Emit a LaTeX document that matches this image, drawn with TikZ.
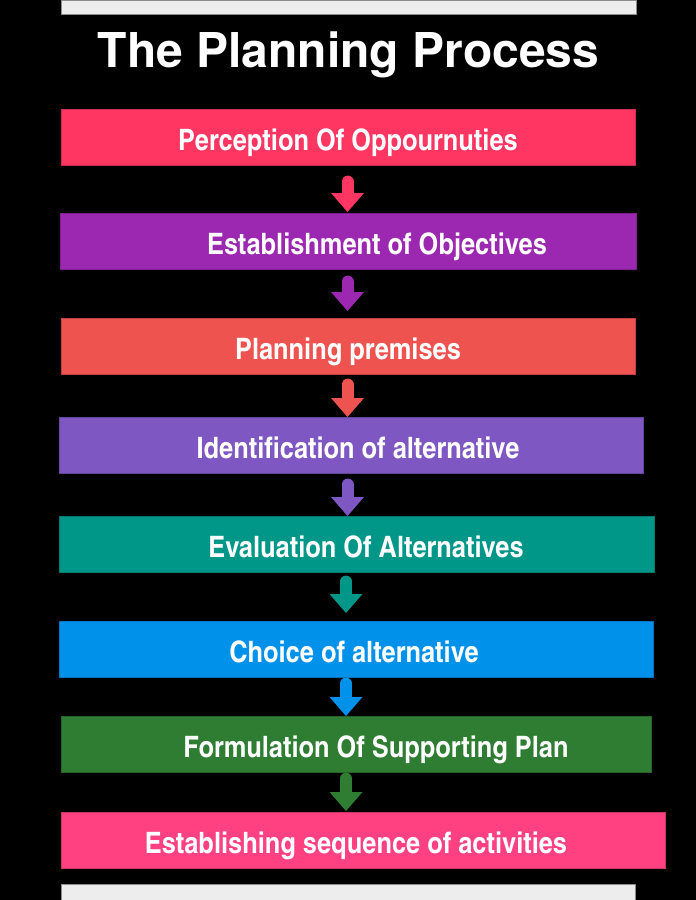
\documentclass[tikz,border=0pt]{standalone}
\usepackage{fontspec}
\usepackage{tikz}
\usetikzlibrary{arrows.meta}
\newfontfamily\titlefont{texgyreheros-bold}[Extension=.otf]
\newfontfamily\boxfont{texgyreheroscn-bold}[Extension=.otf, FakeStretch=1.05]
\definecolor{PerceptionRed}{HTML}{FF3562}
\definecolor{ObjectivePurple}{HTML}{9C27B0}
\definecolor{PremiseRed}{HTML}{EF5350}
\definecolor{IdentifyPurple}{HTML}{7E57C2}
\definecolor{EvalTeal}{HTML}{009688}
\definecolor{ChoiceBlue}{HTML}{0091EA}
\definecolor{PlanGreen}{HTML}{2E7D32}
\definecolor{SequencePink}{HTML}{FF4081}
\tikzset{
  stepbox/.style={rectangle, draw=#1!80!black, line width=0.6pt, fill=#1, minimum height=56pt, inner sep=0pt, anchor=north west},
  steptext/.style={text=white, anchor=base, font=\boxfont\fontsize{29.5}{29.5}\selectfont},
  flow/.style={draw=#1, line width=12pt, line cap=round, -{Triangle[width=33pt,length=19pt,line width=0pt]}},
  greybar/.style={rectangle, draw=black!45, fill=black!7, inner sep=0pt, anchor=north west}
}
\begin{document}
\begin{tikzpicture}[x=1pt, y=-1pt]

\fill[black] (0,0) rectangle (696,900);
\useasboundingbox (0,0) rectangle (696,900);

\node at (61,0) [greybar, minimum width=575pt, minimum height=14pt] (topbar) {};
\node at (61,884) [greybar, minimum width=574pt, minimum height=16pt] (bottombar) {};

\node at (348.5,67) [anchor=base, text=white, font=\titlefont\fontsize{48}{48}\selectfont] (title) {The Planning Process};

\node at (61,109) [stepbox=PerceptionRed, minimum width=574pt] (perception) {};
\node at (60,213) [stepbox=ObjectivePurple, minimum width=576pt] (objectives) {};
\node at (61,318) [stepbox=PremiseRed, minimum width=574pt] (premises) {};
\node at (59,417) [stepbox=IdentifyPurple, minimum width=584pt] (identify) {};
\node at (59,516) [stepbox=EvalTeal, minimum width=595pt] (evaluate) {};
\node at (59,621) [stepbox=ChoiceBlue, minimum width=594pt] (choice) {};
\node at (61,716) [stepbox=PlanGreen, minimum width=590pt] (support) {};
\node at (61,812) [stepbox=SequencePink, minimum width=604pt] (sequence) {};

\node at (348,150) [steptext] (perceptiontext) {Perception Of Oppournuties};
\node at (377,254) [steptext] (objectivestext) {Establishment of Objectives};
\node at (348,359) [steptext] (premisestext) {Planning premises};
\node at (358,458) [steptext] (identifytext) {Identification of alternative};
\node at (366,557) [steptext] (evaluatetext) {Evaluation Of Alternatives};
\node at (354,662) [steptext] (choicetext) {Choice of alternative};
\node at (376,757) [steptext] (supporttext) {Formulation Of Supporting Plan};
\node at (356,853) [steptext] (sequencetext) {Establishing sequence of activities};

\coordinate (ax) at (347.5,0);
\coordinate (bx) at (346,0);

\draw[flow=PerceptionRed, shorten <=16pt, shorten >=1pt] (perception.south -| ax) -- (objectives.north -| ax);
\draw[flow=ObjectivePurple, shorten <=12pt, shorten >=7pt] (objectives.south -| ax) -- (premises.north -| ax);
\draw[flow=PremiseRed, shorten <=10pt] (premises.south -| ax) -- (identify.north -| ax);
\draw[flow=IdentifyPurple, shorten <=11pt] (identify.south -| ax) -- (evaluate.north -| ax);
\draw[flow=EvalTeal, shorten <=9pt, shorten >=8pt] (evaluate.south -| bx) -- (choice.north -| bx);
\draw[flow=ChoiceBlue, shorten <=6pt] (choice.south -| bx) -- (support.north -| bx);
\draw[flow=PlanGreen, shorten <=6pt, shorten >=1pt] (support.south -| bx) -- (sequence.north -| bx);

\end{tikzpicture}
\end{document}
